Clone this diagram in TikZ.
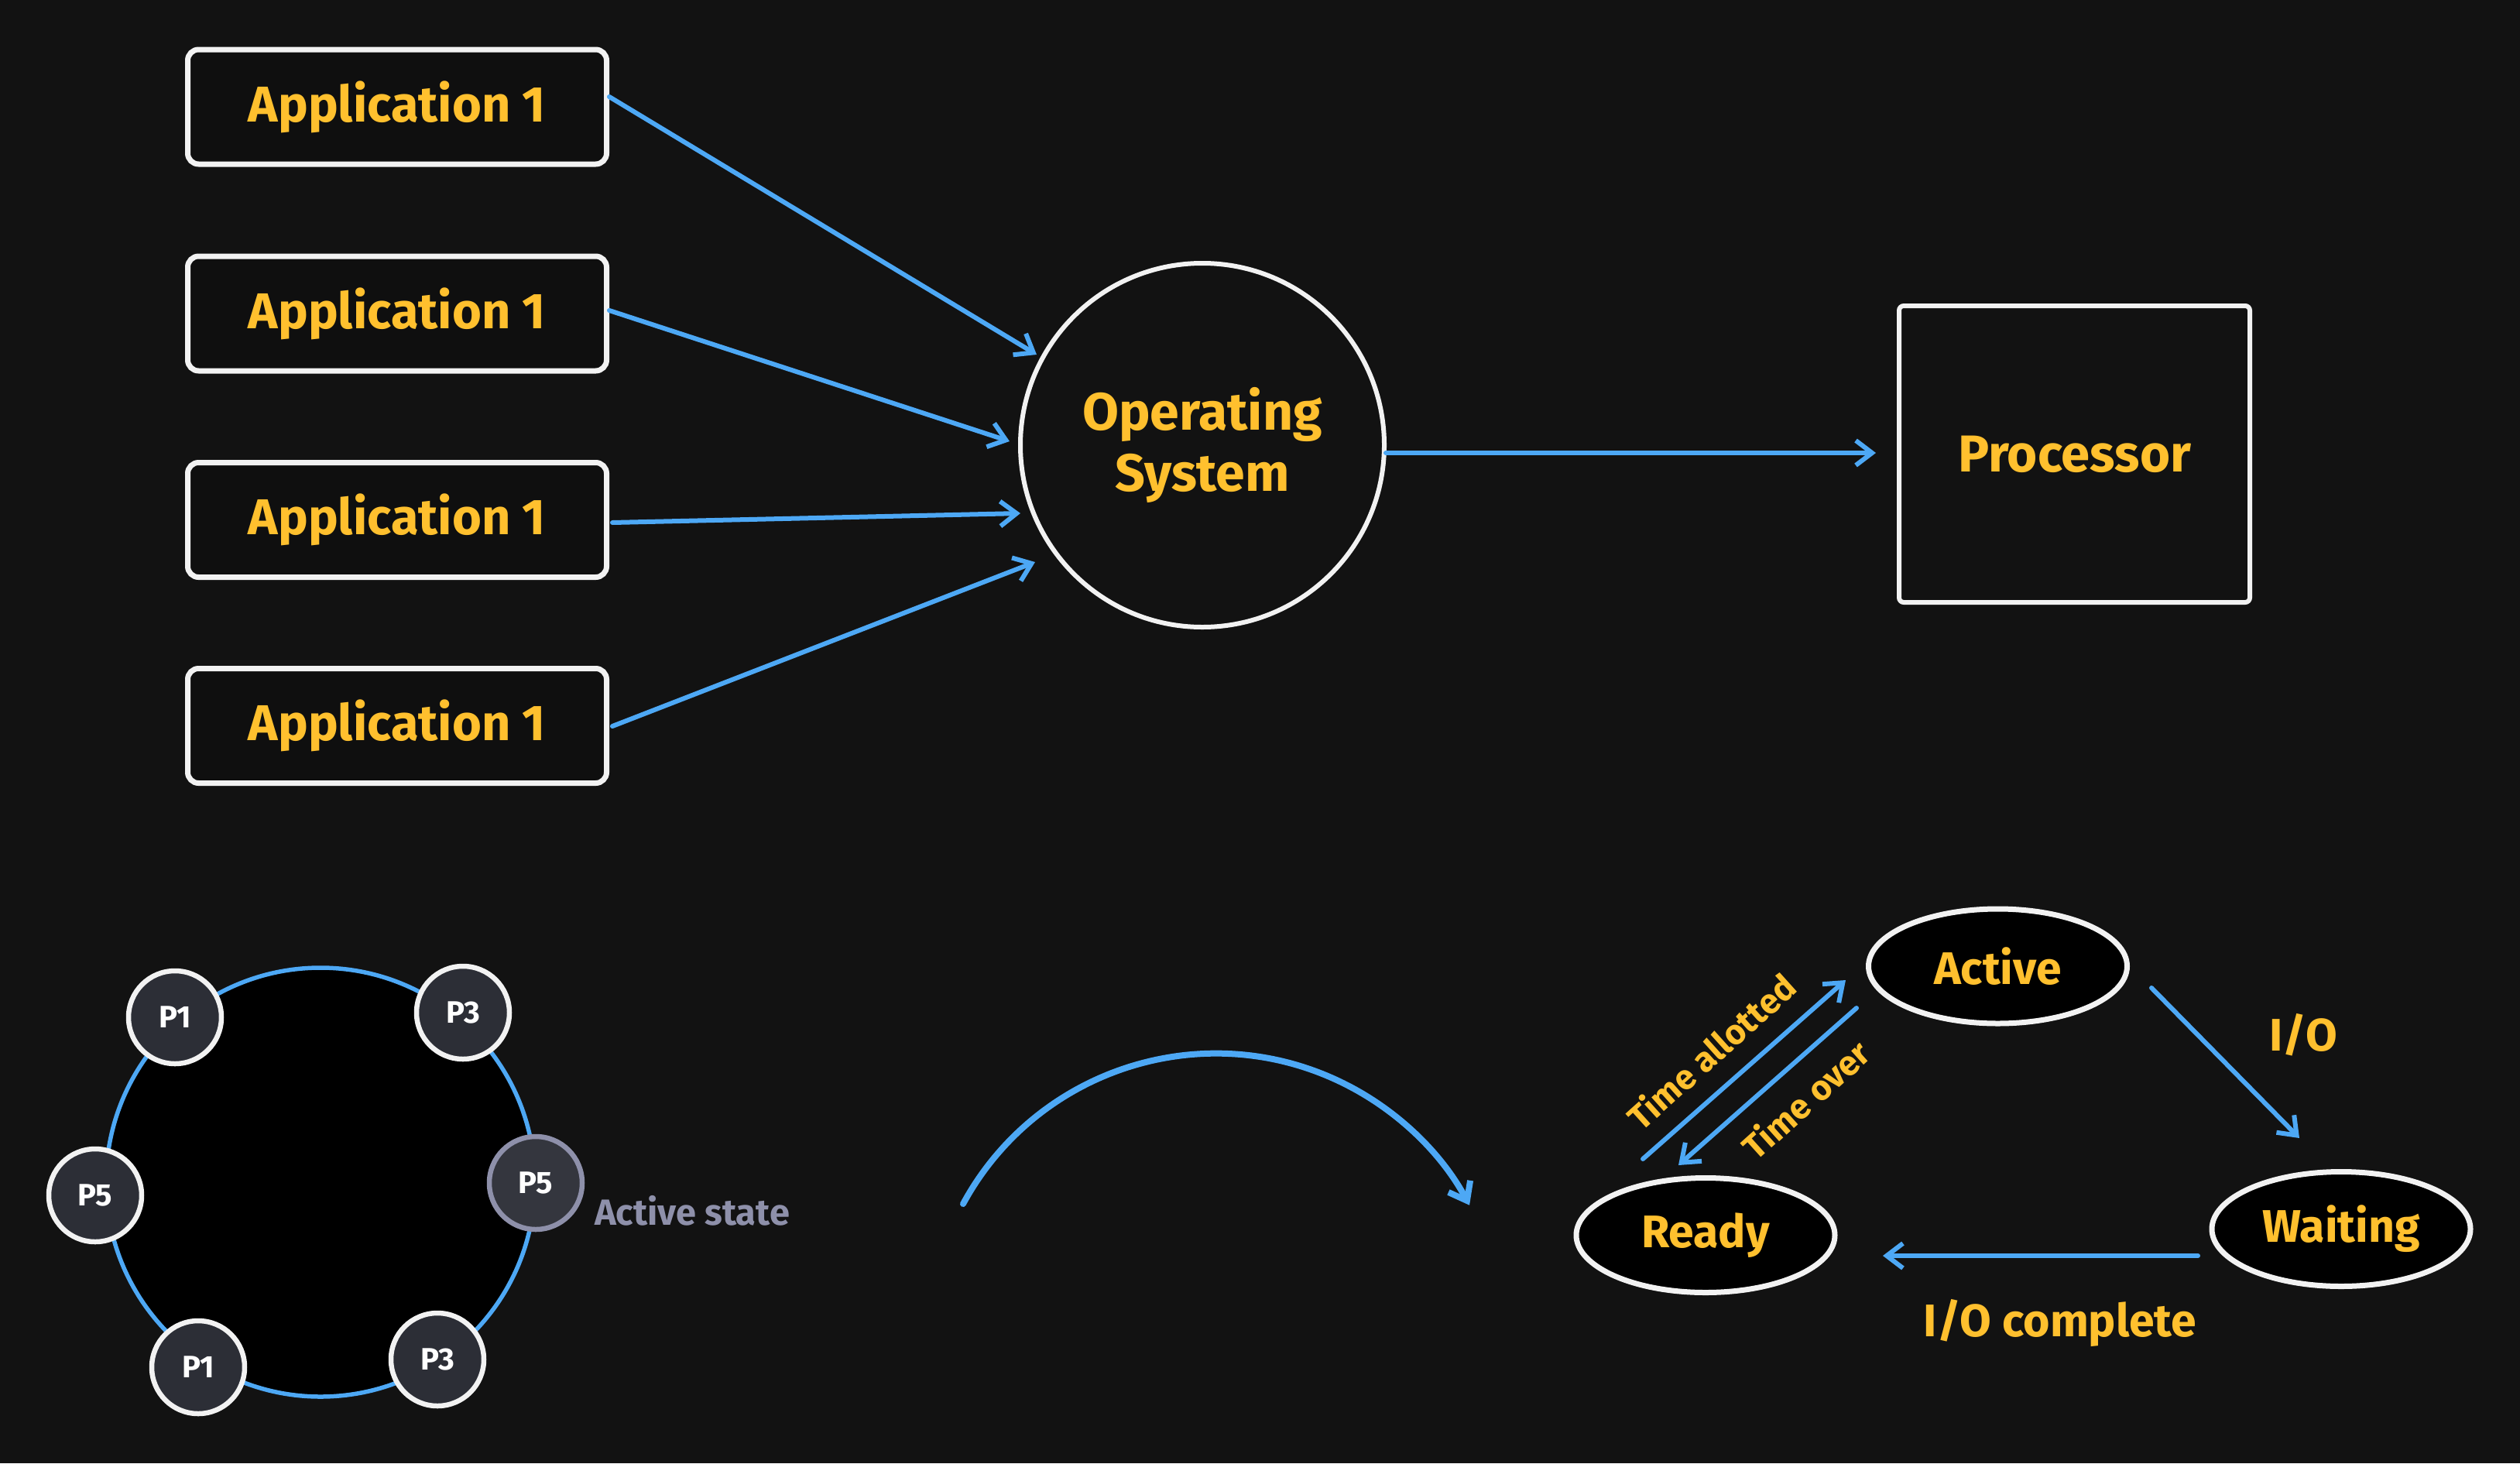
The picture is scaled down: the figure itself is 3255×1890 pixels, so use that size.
\documentclass[tikz,border=0pt]{standalone}
\usepackage{fontspec}
\setmainfont{Fira Sans}
\usetikzlibrary{arrows.meta,shapes.geometric,calc}
\definecolor{bgc}{HTML}{121212}
\definecolor{appfill}{HTML}{0F0F0F}
\definecolor{txty}{HTML}{FFC02E}
\definecolor{arrb}{HTML}{4DA8F5}
\definecolor{edgew}{HTML}{F2F2F2}
\definecolor{pfill}{HTML}{2C2E36}
\definecolor{pafill}{HTML}{34363E}
\definecolor{pastroke}{HTML}{8E90AA}
\newcommand{\fsz}[2]{\fontsize{#1}{#2}\selectfont}
\begin{document}
\begin{tikzpicture}[x=1pt,y=-1pt,
  appbox/.style={draw=edgew, line width=7pt, fill=appfill, rounded corners=14pt,
    minimum width=541pt, minimum height=148pt, inner sep=0pt, text=txty,
    font=\bfseries\fsz{65}{72}},
  oscirc/.style={draw=edgew, line width=6pt, circle, minimum size=470pt, inner sep=0pt,
    text=txty, align=center, font=\bfseries\fsz{68}{79}},
  procbox/.style={draw=edgew, line width=6pt, rounded corners=6pt, minimum width=453pt,
    minimum height=383pt, inner sep=0pt, text=txty, font=\bfseries\fsz{67}{75}},
  ringc/.style={draw=arrb, line width=5.5pt, fill=black, circle, minimum size=554pt, inner sep=0pt},
  pnode/.style={draw=edgew, line width=6.5pt, fill=pfill, circle, minimum size=120pt,
    inner sep=0pt, text=white, font=\bfseries\fsz{40}{44}},
  pact/.style={pnode, draw=pastroke, fill=pafill},
  stnode/.style={draw=edgew, line width=7pt, fill=black, ellipse, minimum width=334pt,
    minimum height=148pt, inner sep=0pt, text=txty, font=\bfseries\fsz{59}{66}},
  lbl/.style={text=txty, inner sep=0pt, font=\bfseries\fsz{45}{50}},
  lbltwo/.style={text=txty, inner sep=0pt, font=\bfseries\fsz{59}{66}},
  arr/.style={draw=arrb, line width=6pt, line cap=round,
    -{Straight Barb[length=21pt,width=32pt]}}
]
\path[use as bounding box, fill=bgc] (0,0) rectangle (3255,1890);

% top part
\node[appbox] (app1) at (513,138) {Application 1};
\node[appbox] (app2) at (513,405) {Application 1};
\node[appbox] (app3) at (513,671.5) {Application 1};
\node[appbox] (app4) at (513,937.5) {Application 1};
\node[oscirc] (os) at (1553,575) {Operating\\System};
\node[procbox] (proc) at (2679.5,586.5) {Processor};

\draw[arr] ($(app1.center)+(274,-13)$) -- ($(os.center)+(-214,-117)$);
\draw[arr] ($(app2.center)+(274,-4)$) -- ($(os.center)+(-249,-5)$);
\draw[arr] ($(app3.center)+(278,3.5)$) -- ($(os.center)+(-235,88)$);
\draw[arr] ($(app4.center)+(278,0.5)$) -- ($(os.center)+(-216,151)$);
\draw[arr] ($(os.center)+(237,10)$) -- ($(proc.center)+(-256.5,-1.5)$);

% round robin ring
\node[ringc] (ring) at (414,1527) {};
\node[pnode] (p1a) at (226,1314) {P1};
\node[pnode] (p3a) at (598,1308) {P3};
\node[pnode] (p5a) at (123,1544) {P5};
\node[pact]  (p5b) at (692,1528) {P5};
\node[pnode] (p1b) at (256,1766) {P1};
\node[pnode] (p3b) at (565,1756) {P3};
\node[anchor=west, inner sep=0pt, text=pastroke, font=\bfseries\fsz{47}{52}] (actlbl) at (768,1564) {Active state};

% curved arrow
\draw[arr, line width=8pt] (1244,1555) arc[start angle=208.5, end angle=331.8, radius=371.6];

% state diagram
\node[stnode] (active) at (2580.5,1248) {Active};
\node[stnode] (ready) at (2203,1595.5) {Ready};
\node[stnode] (waiting) at (3024,1587.5) {Waiting};

\draw[arr] ($(ready.center)+(-81,-98.5)$) -- ($(active.center)+(-196.5,18)$);
\draw[arr] ($(active.center)+(-182.5,54)$) -- ($(ready.center)+(-35,-90.5)$);
\draw[arr] ($(active.center)+(198.5,28)$) -- ($(waiting.center)+(-54,-117.5)$);
\draw[arr] ($(waiting.center)+(-185,34.5)$) -- ($(ready.center)+(229,26.5)$);

\node[lbl, rotate=42] (tallot) at (2210,1358) {Time allotted};
\node[lbl, rotate=42] (tover) at (2332,1420) {Time over};
\node[lbltwo] (io) at (2975,1337) {I/O};
\node[lbltwo] (iocomp) at (2661,1709) {I/O complete};
\end{tikzpicture}
\end{document}
